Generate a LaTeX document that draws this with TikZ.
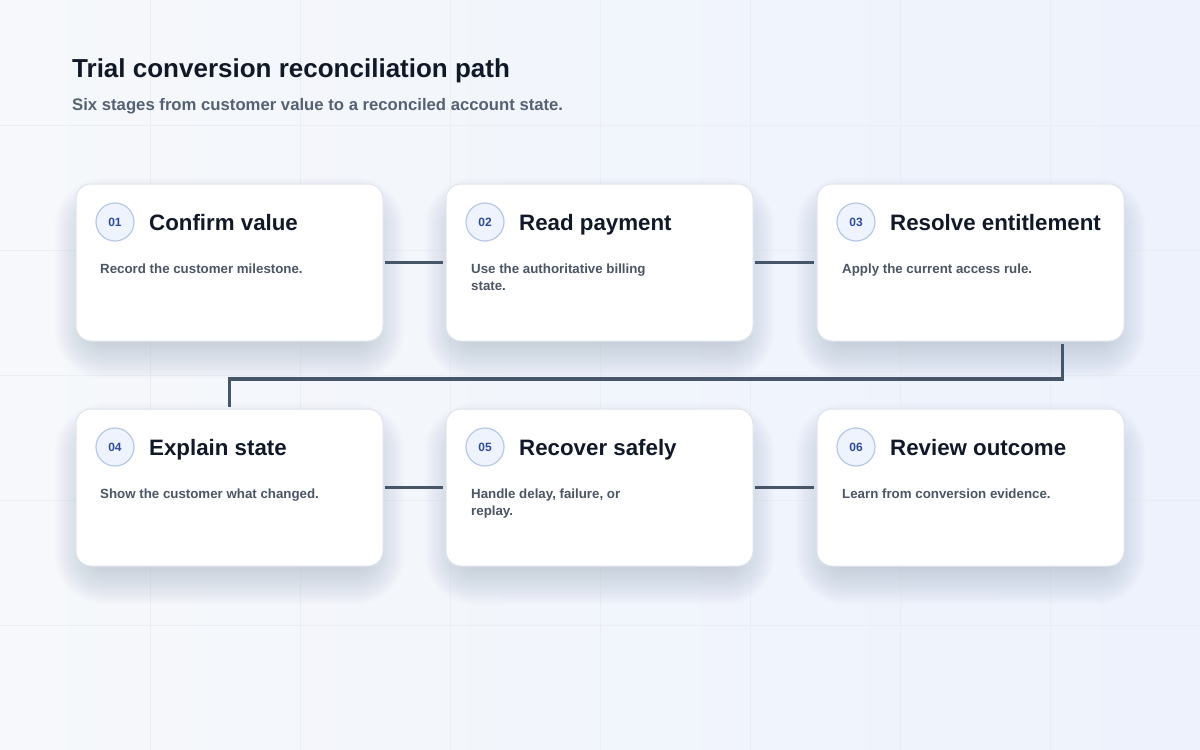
\documentclass[tikz,border=0pt]{standalone}
\usepackage{fontspec}
\setmainfont{Liberation Sans}
\usetikzlibrary{calc}
\definecolor{bgA}{HTML}{F6F8FB}
\definecolor{bgB}{HTML}{EDF2FC}
\definecolor{gridc}{HTML}{EAEEF4}
\definecolor{ink}{HTML}{111827}
\definecolor{muted}{HTML}{4B5563}
\definecolor{subc}{HTML}{556274}
\definecolor{cardline}{HTML}{DFE4EC}
\definecolor{badgefill}{HTML}{EEF3FD}
\definecolor{badgeline}{HTML}{B7C7E6}
\definecolor{badgetext}{HTML}{2F4C9C}
\definecolor{wire}{HTML}{475569}
\definecolor{shadowc}{HTML}{5A6A8A}
\begin{document}
\begin{tikzpicture}[x=1pt,y=-1pt,
 card/.style={draw=cardline, line width=1pt, fill=white, rounded corners=15pt,
   minimum width=307pt, minimum height=157pt, inner sep=0pt},
 shadowlayer/.style={fill=shadowc, fill opacity=0.015},
 badge/.style={circle, draw=badgeline, line width=1.2pt, fill=badgefill, minimum size=38pt,
   inner sep=0pt, text=badgetext, font=\fontsize{12}{12}\selectfont\bfseries},
 cardtitle/.style={anchor=base west, inner sep=0pt, text=ink, font=\fontsize{22.3}{26}\selectfont\bfseries},
 carddesc/.style={anchor=north west, inner sep=0pt, text=muted, align=left,
   font=\fontsize{13.3}{17}\selectfont\bfseries},
 wirestyle/.style={draw=wire, line width=3.5pt, line join=miter}
]
\useasboundingbox (0,0) rectangle (1200,750);
\shade[left color=bgA, right color=bgB] (0,0) rectangle (1200,750);
\foreach \gx in {150,300,...,1050} \draw[gridc, line width=0.7pt] (\gx,0) -- (\gx,750);
\foreach \gy in {125,250,...,625} \draw[gridc, line width=0.7pt] (0,\gy) -- (1200,\gy);

\node[anchor=base west, inner sep=0pt, text=ink, font=\fontsize{26}{30}\selectfont\bfseries] (title) at (72,77) {Trial conversion reconciliation path};
\node[anchor=base west, inner sep=0pt, text=subc, font=\fontsize{16.7}{20}\selectfont\bfseries] (subtitle) at (72,110) {Six stages from customer value to a reconciled account state.};

% soft shadows under the cards
\foreach \cx/\cy in {229.5/262.5, 599.5/262.5, 970.5/262.5, 229.5/487.5, 599.5/487.5, 970.5/487.5}{
  \foreach \k in {0,...,15}{
    \fill[shadowlayer, rounded corners={14pt+2.3pt*\k}]
      ({\cx-140-2.3*\k},{\cy-66-2.3*\k+16}) rectangle ({\cx+140+2.3*\k},{\cy+66+2.3*\k+16});
  }
}

% cards
\node[card] (c1) at (229.5,262.5) {};
\node[card] (c2) at (599.5,262.5) {};
\node[card] (c3) at (970.5,262.5) {};
\node[card] (c4) at (229.5,487.5) {};
\node[card] (c5) at (599.5,487.5) {};
\node[card] (c6) at (970.5,487.5) {};

% card contents
\node[badge] (b1) at (115,222) {01};
\node[cardtitle] (t1) at (149,230) {Confirm value};
\node[carddesc] (d1) at (100,263.5) {Record the customer milestone.};

\node[badge] (b2) at (485,222) {02};
\node[cardtitle] (t2) at (519,230) {Read payment};
\node[carddesc] (d2) at (471,263.5) {Use the authoritative billing\\state.};

\node[badge] (b3) at (856,222) {03};
\node[cardtitle] (t3) at (890,230) {Resolve entitlement};
\node[carddesc] (d3) at (842,263.5) {Apply the current access rule.};

\node[badge] (b4) at (115,447) {04};
\node[cardtitle] (t4) at (149,455) {Explain state};
\node[carddesc] (d4) at (100,488.5) {Show the customer what changed.};

\node[badge] (b5) at (485,447) {05};
\node[cardtitle] (t5) at (519,455) {Recover safely};
\node[carddesc] (d5) at (471,488.5) {Handle delay, failure, or\\replay.};

\node[badge] (b6) at (856,447) {06};
\node[cardtitle] (t6) at (890,455) {Review outcome};
\node[carddesc] (d6) at (842,488.5) {Learn from conversion evidence.};

% connectors
\draw[wirestyle, shorten >=3pt, shorten <=1pt] (c1.east) -- (c2.west);
\draw[wirestyle, shorten >=3pt, shorten <=1pt] (c2.east) -- (c3.west);
\draw[wirestyle, shorten >=2pt, shorten <=2pt] ([xshift=92pt]c3.south) -- ++(0,37.5) -| (c4.north);
\draw[wirestyle, shorten >=3pt, shorten <=1pt] (c4.east) -- (c5.west);
\draw[wirestyle, shorten >=3pt, shorten <=1pt] (c5.east) -- (c6.west);
\end{tikzpicture}
\end{document}
